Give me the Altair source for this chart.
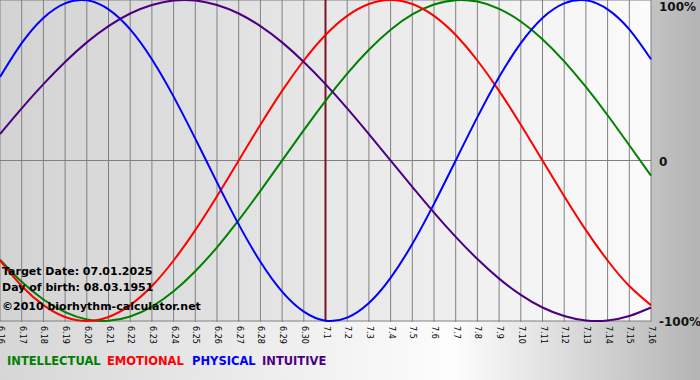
import altair as alt
import pandas as pd

# ---- data ----
dates = ["6.16", "6.17", "6.18", "6.19", "6.20", "6.21", "6.22", "6.23", "6.24", "6.25",
         "6.26", "6.27", "6.28", "6.29", "6.30", "7.1", "7.2", "7.3", "7.4", "7.5",
         "7.6", "7.7", "7.8", "7.9", "7.10", "7.11", "7.12", "7.13", "7.14", "7.15", "7.16"]

intellectual = [-0.618, -0.756, -0.866, -0.945, -0.990, -0.999, -0.972, -0.910, -0.815, -0.690,
                -0.541, -0.372, -0.189, 0.0, 0.189, 0.372, 0.541, 0.690, 0.815, 0.910,
                0.972, 0.999, 0.990, 0.945, 0.866, 0.756, 0.618, 0.458, 0.282, 0.095, -0.095]

emotional = [-0.623, -0.782, -0.901, -0.975, -1.0, -0.975, -0.901, -0.782, -0.623, -0.434,
             -0.223, 0.0, 0.223, 0.434, 0.623, 0.782, 0.901, 0.975, 1.0, 0.975,
             0.901, 0.782, 0.623, 0.434, 0.223, 0.0, -0.223, -0.434, -0.623, -0.782, -0.901]

physical = [0.520, 0.731, 0.888, 0.979, 0.998, 0.942, 0.817, 0.631, 0.398, 0.136,
            -0.136, -0.398, -0.631, -0.817, -0.942, -0.998, -0.979, -0.888, -0.731, -0.520,
            -0.270, 0.0, 0.270, 0.520, 0.731, 0.888, 0.979, 0.998, 0.942, 0.817, 0.631]

intuitive = [0.165, 0.325, 0.476, 0.614, 0.736, 0.837, 0.916, 0.969, 0.997, 0.997,
             0.969, 0.916, 0.837, 0.736, 0.614, 0.476, 0.325, 0.165, 0.0, -0.165,
             -0.325, -0.476, -0.614, -0.736, -0.837, -0.916, -0.969, -0.997, -0.997, -0.969, -0.916]

series_names = ["INTELLECTUAL", "EMOTIONAL", "PHYSICAL", "INTUITIVE"]
series_colors = ["#008000", "#ff0000", "#0000ff", "#4b0082"]

levels = [1, 0, -1]
level_labels = ["100%", "0", "-100%"]

target_date = "7.1"
notes = ["Target Date: 07.01.2025", "Day of birth: 08.03.1951", "©2010 biorhythm-calculator.net"]

# ---- layout constants ----
W, H = 651, 321
TOTAL_W, TOTAL_H = 700, 380
FONT = "DejaVu Sans"
NOTE_Y = [272, 287.5, 307]
LEGEND_X = [7, 107, 192, 262]
LEGEND_Y = 362

# ---- tables ----
idx = list(range(len(dates)))
rows = []
for name, vals in zip(series_names, [intellectual, emotional, physical, intuitive]):
    for i, v in zip(idx, vals):
        rows.append({"d": i, "v": v, "series": name})
curves = pd.DataFrame(rows)
ticks = pd.DataFrame({"d": idx, "lab": dates})
lev = pd.DataFrame({"v": levels, "lab": level_labels})
one = pd.DataFrame({"k": [0]})

xs = alt.Scale(domain=[0, len(dates) - 1], nice=False, zero=False)
ys = alt.Scale(domain=[-1, 1], nice=False)
X = alt.X("d:Q", scale=xs, axis=None)
Y = alt.Y("v:Q", scale=ys, axis=None)

outer_bg = alt.Chart(one).mark_rect(
    strokeWidth=0,
    fill=alt.LinearGradient(
        gradient="linear", x1=0, x2=1, y1=0, y2=0,
        stops=[alt.GradientStop(color="#d6d6d6", offset=0),
               alt.GradientStop(color="#fdfdfd", offset=0.65),
               alt.GradientStop(color="#b4b4b4", offset=1)])
).encode(x=alt.value(0), x2=alt.value(TOTAL_W), y=alt.value(0), y2=alt.value(TOTAL_H))

plot_bg = alt.Chart(one).mark_rect(
    strokeWidth=0,
    fill=alt.LinearGradient(
        gradient="linear", x1=0, x2=1, y1=0, y2=0,
        stops=[alt.GradientStop(color="#d3d3d3", offset=0),
               alt.GradientStop(color="#fbfbfb", offset=1)])
).encode(x=alt.value(0), x2=alt.value(W), y=alt.value(0), y2=alt.value(H))

vgrid = alt.Chart(ticks).mark_rule(color="#808080", strokeWidth=1).encode(
    x=X, y=alt.value(0), y2=alt.value(H + 1))

hgrid = alt.Chart(lev).mark_rule(color="#808080", strokeWidth=1).encode(
    y=Y, x=alt.value(0), x2=alt.value(W))

target = alt.Chart(pd.DataFrame({"d": [dates.index(target_date)]})).mark_rule(
    color="#7d1422", strokeWidth=2).encode(x=X, y=alt.value(0), y2=alt.value(H))

lines = alt.Chart(curves).mark_line(strokeWidth=2, interpolate="natural").encode(
    x=X, y=Y,
    color=alt.Color("series:N", scale=alt.Scale(domain=series_names, range=series_colors), legend=None))

tick_labels = alt.Chart(ticks).mark_text(
    angle=90, align="left", baseline="middle", font=FONT, fontSize=8, color="#000000"
).encode(x=X, y=alt.value(H + 5), text="lab:N")

lev_top = alt.Chart(lev).transform_filter(alt.datum.v == max(levels)).mark_text(
    align="left", baseline="top", dy=2, font=FONT, fontSize=12, fontWeight="bold", color="#111111"
).encode(x=alt.value(W + 8), y=Y, text="lab:N")

lev_rest = alt.Chart(lev).transform_filter(alt.datum.v < max(levels)).mark_text(
    align="left", baseline="middle", dy=1, font=FONT, fontSize=12, fontWeight="bold", color="#111111"
).encode(x=alt.value(W + 8), y=Y, text="lab:N")

layers = [outer_bg, plot_bg, vgrid, hgrid, target, lines, tick_labels, lev_top, lev_rest]

for txt, yy in zip(notes, NOTE_Y):
    layers.append(alt.Chart(pd.DataFrame({"t": [txt]})).mark_text(
        align="left", baseline="middle", font=FONT, fontSize=11, fontWeight="bold", color="#000000"
    ).encode(x=alt.value(2), y=alt.value(yy), text="t:N"))

for name, col, xx in zip(series_names, series_colors, LEGEND_X):
    layers.append(alt.Chart(pd.DataFrame({"t": [name]})).mark_text(
        align="left", baseline="middle", font=FONT, fontSize=11.5, fontWeight="bold", color=col
    ).encode(x=alt.value(xx), y=alt.value(LEGEND_Y), text="t:N"))

chart = alt.layer(*layers).properties(
    width=W, height=H,
    autosize=alt.AutoSizeParams(type="none"),
    padding={"left": 0, "top": 0, "right": TOTAL_W - W, "bottom": TOTAL_H - H},
    background="#d8d8d8",
).configure_view(stroke=None)

chart.save("out.html", embed_options={"renderer": "svg", "actions": False})
